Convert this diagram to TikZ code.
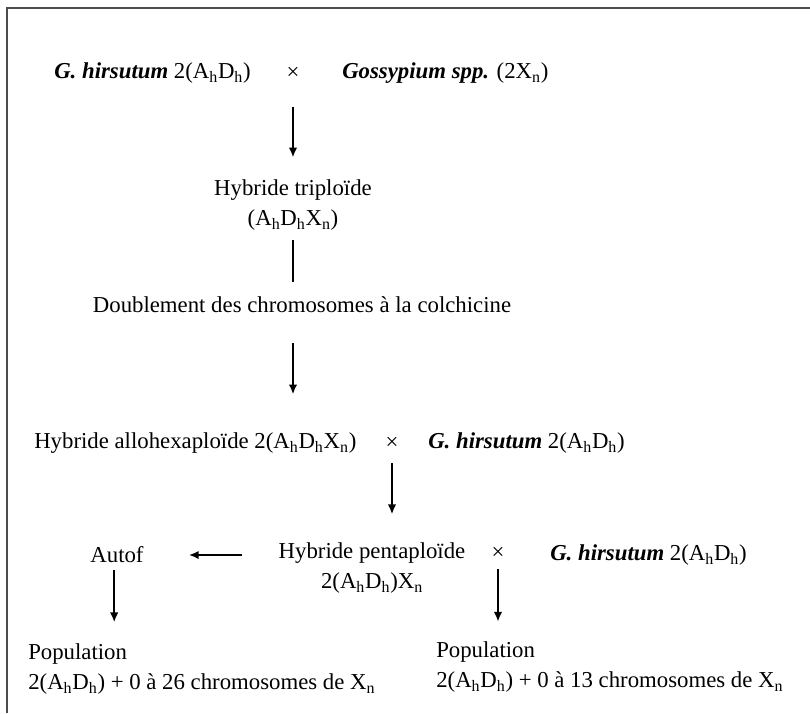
\documentclass[tikz,border=0pt]{standalone}
\usepackage{fontspec}
\setmainfont{Liberation Serif}
\usetikzlibrary{arrows.meta}
\tikzset{
  >={Latex[length=7pt,width=6pt]},
}
\tikzstyle{link}=[line width=1.8pt,->]
\tikzstyle{bar}=[line width=1.8pt]
\tikzstyle{every node}=[font=\fontsize{16.2pt}{21.3pt}\selectfont,inner sep=0pt]
\newcommand{\Ah}{A\textsubscript{h}}
\newcommand{\Dh}{D\textsubscript{h}}
\newcommand{\Xn}{X\textsubscript{n}}
\newcommand{\ghir}{\textbf{\textit{G. hirsutum}}}

\begin{document}
\begin{tikzpicture}[x=0.025cm,y=-0.025cm]
        \useasboundingbox (0,0) rectangle (810,713);
        \draw[line width=1pt,black!70] (7,713)--(7,8)--(810,8);
        % first cross
        \node[anchor=west] (g1) at (54,73) {\ghir\ 2(\Ah\Dh)};
        \node (x1) at (293,73) {×};
        \node[anchor=west] (gs) at (342,73) {\textbf{\textit{Gossypium spp.}} (2\Xn)};
        \node[align=center] (tri) at (293,205) {Hybride triploïde\\(\Ah\Dh\Xn)};
        \node (dbl) at (302,305) {Doublement des chromosomes à la colchicine};
        % second cross
        \node[anchor=west] (hex) at (34,443) {Hybride allohexaploïde 2(\Ah\Dh\Xn)};
        \node (x2) at (392,443) {×};
        \node[anchor=west] (g2) at (428,443) {\ghir\ 2(\Ah\Dh)};
        % third cross
        \node[align=center] (penta) at (372,568) {Hybride pentaploïde\\2(\Ah\Dh)\Xn};
        \node (autof) at (117,555) {Autof};
        \node (x3) at (498,553) {×};
        \node[anchor=west] (g3) at (550,555) {\ghir\ 2(\Ah\Dh)};
        \node[anchor=west,align=left] (pop1) at (28,669) {Population\\2(\Ah\Dh) + 0 à 26 chromosomes de \Xn};
        \node[anchor=west,align=left] (pop2) at (436,667) {Population\\2(\Ah\Dh) + 0 à 13 chromosomes de \Xn};
        % links
        \draw[link,shorten <=16.4pt,shorten >=15.6pt] (x1 |- g1.south)--(x1 |- tri.north);
        \draw[bar,shorten <=6.4pt,shorten >=10.7pt] (tri.south)--(tri.south |- dbl.north);
        \draw[link,shorten <=21.3pt,shorten >=27pt] (tri.south |- dbl.south)--(tri.south |- hex.north);
        \draw[link,shorten <=7pt,shorten >=20pt] (x2 |- hex.south)--(x2 |- penta.north);
        \draw[link,shorten <=25.6pt,shorten >=32pt] (penta.west |- autof)--(autof.east);
        \draw[link,shorten <=5pt,shorten >=15pt] ([xshift=-2pt]autof.south)--([xshift=-2pt]autof.south |- pop1.north);
        \draw[link,shorten <=7pt,shorten >=14pt] (x3.south)--(x3 |- pop2.north);
      \end{tikzpicture}
\end{document}
